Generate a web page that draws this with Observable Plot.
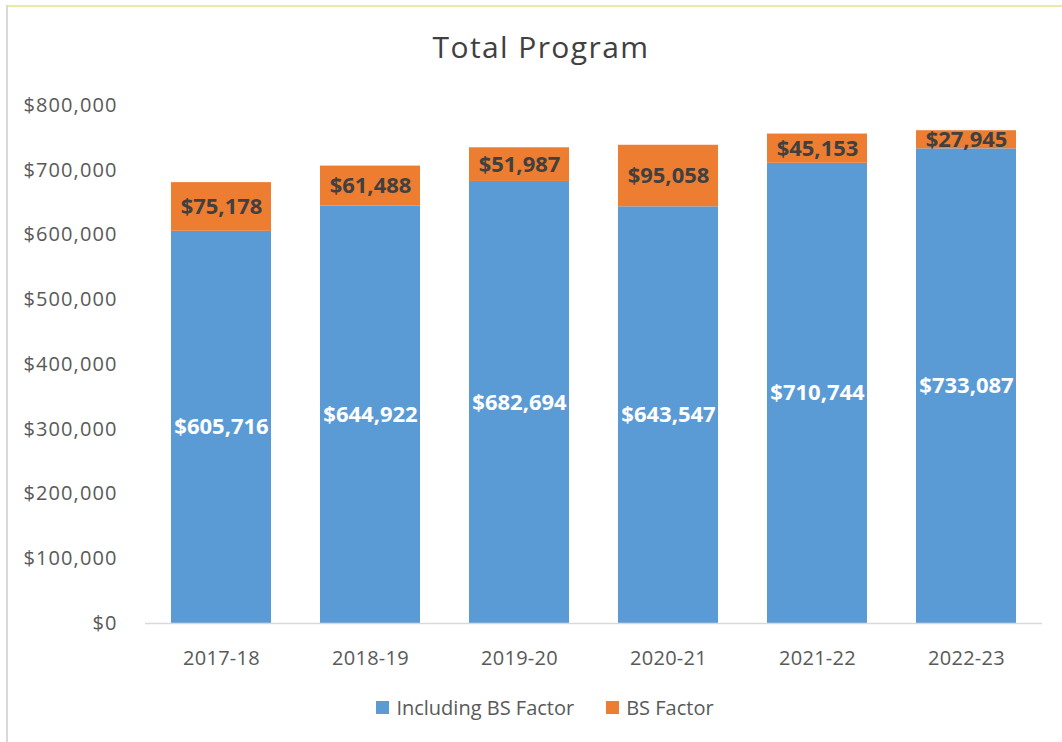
<!DOCTYPE html>
<html>
<head>
<meta charset="utf-8">
<script src="https://cdn.jsdelivr.net/npm/d3@7"></script>
<script src="https://cdn.jsdelivr.net/npm/@observablehq/plot@0.6"></script>
<style>
  html, body { margin: 0; padding: 0; background: #fff; }
  #frame { position: relative; width: 1062px; height: 742px; overflow: hidden; background: #fff; font-family: "Open Sans", sans-serif; }
  #borderTop { position: absolute; left: 6px; top: 5px; width: 1056px; height: 2px; background: #ece9a6; }
  #borderLeft { position: absolute; left: 6px; top: 5px; width: 2px; height: 737px; background: #d9d9d9; }
  #title { position: absolute; left: 0; width: 1082px; top: 32px; line-height: 30px; text-align: center; font-size: 30px; letter-spacing: 1.4px; color: #404040; }
  #chart { position: absolute; left: 0; top: 80px; }
  #legend { position: absolute; left: 0; width: 1090px; top: 694px; text-align: center; font-size: 20px; line-height: 26px; color: #595959; }
  .item { display: inline-flex; align-items: center; margin: 0 16px; }
  .sw { display: inline-block; width: 13px; height: 13px; margin-right: 7px; }
</style>
</head>
<body>
<div id="frame">
  <div id="borderTop"></div>
  <div id="borderLeft"></div>
  <div id="title">Total Program</div>
  <div id="chart"></div>
  <div id="legend"></div>
</div>
<script>
const years = ["2017-18", "2018-19", "2019-20", "2020-21", "2021-22", "2022-23"];
const including = [605716, 644922, 682694, 643547, 710744, 733087];
const bsFactor = [75178, 61488, 51987, 95058, 45153, 27945];
const seriesNames = ["Including BS Factor", "BS Factor"];
const seriesColors = ["#5B9BD5", "#ED7D31"];
const yTicks = [0, 100000, 200000, 300000, 400000, 500000, 600000, 700000, 800000];

const rows = [];
years.forEach((yr, i) => {
  rows.push({year: yr, series: seriesNames[0], value: including[i]});
  rows.push({year: yr, series: seriesNames[1], value: bsFactor[i]});
});

const money = d => "$" + d3.format(",")(d);

const chart = Plot.plot({
  width: 1062,
  height: 593,
  marginTop: 25,
  marginBottom: 50,
  marginLeft: 145,
  marginRight: 20,
  style: {fontFamily: "Open Sans, sans-serif", background: "transparent"},
  x: {domain: years, paddingInner: 0.33, paddingOuter: 0.165, label: null, tickSize: 0, tickPadding: 27},
  y: {domain: [0, 800000], ticks: yTicks, tickFormat: money, label: null, tickSize: 0, tickPadding: 28},
  color: {domain: seriesNames, range: seriesColors},
  marks: [
    Plot.barY(rows, {x: "year", y: "value", fill: "series", order: seriesNames}),
    Plot.ruleY([0], {stroke: "#d9d9d9", strokeWidth: 1.5}),
    Plot.text(rows, Plot.stackY({
      x: "year", y: "value", z: "series", order: seriesNames,
      text: d => d.series === seriesNames[0] ? money(d.value) : "",
      fill: "white", fontWeight: "bold", fontSize: 22
    })),
    Plot.text(rows, Plot.stackY({
      x: "year", y: "value", z: "series", order: seriesNames,
      text: d => d.series === seriesNames[1] ? money(d.value) : "",
      fill: "#404040", fontWeight: "bold", fontSize: 22
    }))
  ]
});
chart.querySelectorAll("[aria-label='y-axis tick label']").forEach(g => {
  g.setAttribute("font-size", "20");
  g.setAttribute("fill", "#595959");
  g.style.letterSpacing = "1.1px";
});
chart.querySelectorAll("[aria-label='x-axis tick label']").forEach(g => {
  g.setAttribute("font-size", "20");
  g.setAttribute("fill", "#595959");
  g.style.letterSpacing = "0.3px";
});
document.getElementById("chart").appendChild(chart);

const legend = document.getElementById("legend");
seriesNames.forEach((name, i) => {
  const item = document.createElement("span");
  item.className = "item";
  const sw = document.createElement("span");
  sw.className = "sw";
  sw.style.background = seriesColors[i];
  item.appendChild(sw);
  item.appendChild(document.createTextNode(name));
  legend.appendChild(item);
});
</script>
</body>
</html>
